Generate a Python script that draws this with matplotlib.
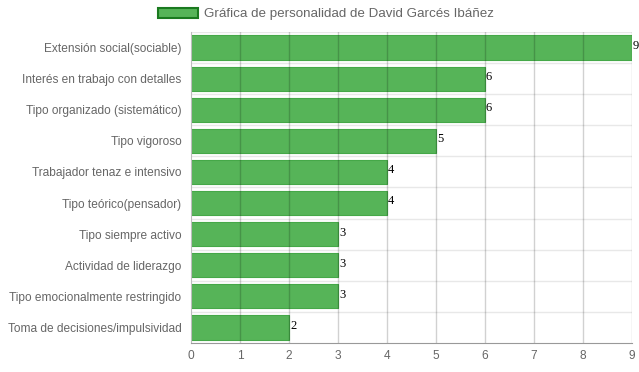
import numpy as np
import matplotlib
matplotlib.use('Agg')
from matplotlib import pyplot as plt
from matplotlib.patches import Patch

# data
categories = ['Extensión social(sociable)', 'Interés en trabajo con detalles',
              'Tipo organizado (sistemático)', 'Tipo vigoroso',
              'Trabajador tenaz e intensivo', 'Tipo teórico(pensador)',
              'Tipo siempre activo', 'Actividad de liderazgo',
              'Tipo emocionalmente restringido', 'Toma de decisiones/impulsividad']
values = [9, 6, 6, 5, 4, 4, 3, 3, 3, 2]
series_name = 'Gráfica de personalidad de David Garcés Ibáñez'
xticks = list(range(0, 10))

plt.rcParams['font.family'] = ['Liberation Sans', 'DejaVu Sans']
fill = (0.30, 0.69, 0.31, 0.95)
edge = '#45a848'
gray = '#666666'

fig = plt.figure(figsize=(6.39, 3.72), dpi=100)
ax = fig.add_axes([191/639, 1-343/372, (632-191)/639, (343-32)/372])

n = len(categories)
ys = np.arange(n)
ax.barh(ys, values, height=0.78, color=fill, edgecolor=edge, linewidth=0.8, zorder=2)

ax.set_ylim(n-0.5, -0.5)
ax.set_xlim(0, 9)
ax.set_xticks(xticks)
ax.set_yticks(ys)
ax.set_yticklabels(categories)
ax.tick_params(axis='both', colors=gray, labelsize=8.55, length=0)
ax.tick_params(axis='x', pad=5)
ax.tick_params(axis='y', pad=7)

# grid: vertical lines over bars, horizontal lines on band edges
for x in xticks[1:]:
    ax.axvline(x, color=(0, 0, 0, 0.18), linewidth=1, zorder=3)
for y in np.arange(-0.5, n, 1.0)[:-1]:
    ax.axhline(y, color='#e8e8e8', linewidth=1, zorder=1)

for s in ['top', 'right']:
    ax.spines[s].set_visible(False)
ax.spines['left'].set_color('#bdbdbd')
ax.spines['bottom'].set_color('#999999')

for y, v in zip(ys, values):
    ax.text(v + 0.02, y - 0.05, str(v), fontfamily='Liberation Serif', fontsize=9,
            color='black', va='center', ha='left', zorder=4, clip_on=False)

leg = fig.legend(handles=[Patch(facecolor=fill, edgecolor='#1a7a1f', linewidth=1.5,
                                label=series_name)],
                 loc='center', bbox_to_anchor=(0.51, 1-14/372), frameon=False,
                 fontsize=9.6, handlelength=3.0, handleheight=0.85, handletextpad=0.45)
for t in leg.get_texts():
    t.set_color(gray)

fig.savefig('out.png', dpi=100)
